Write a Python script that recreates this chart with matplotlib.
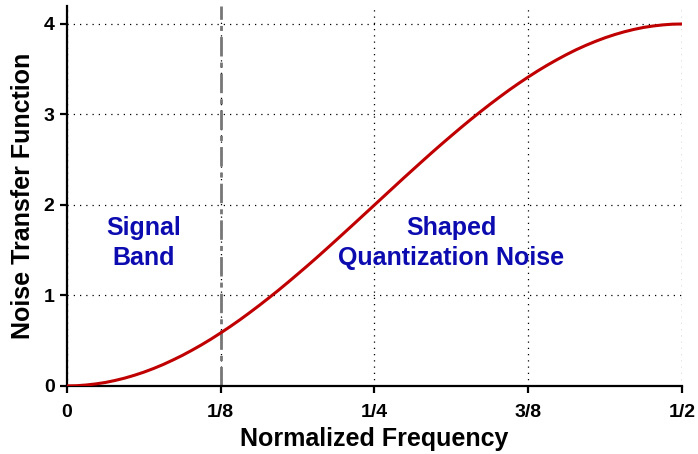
import matplotlib
matplotlib.use('Agg')
import matplotlib.pyplot as plt

plt.rcParams['font.family'] = ['Liberation Sans', 'DejaVu Sans']
plt.rcParams['font.weight'] = 'bold'

freq = [k / 128 for k in range(65)]
ntf = [0.000, 0.002, 0.010, 0.022, 0.038, 0.060, 0.086, 0.117, 0.152, 0.192,
       0.236, 0.285, 0.337, 0.394, 0.454, 0.518, 0.586, 0.657, 0.731, 0.809,
       0.889, 0.972, 1.057, 1.145, 1.235, 1.326, 1.419, 1.514, 1.610, 1.707,
       1.804, 1.902, 2.000, 2.098, 2.196, 2.294, 2.390, 2.486, 2.581, 2.674,
       2.765, 2.855, 2.943, 3.028, 3.111, 3.191, 3.269, 3.343, 3.414, 3.482,
       3.546, 3.606, 3.663, 3.716, 3.764, 3.808, 3.848, 3.883, 3.914, 3.940,
       3.962, 3.978, 3.990, 3.998, 4.000]
band_edge = 1 / 8
xticks = [0, 1 / 8, 1 / 4, 3 / 8, 1 / 2]
xticklabels = ['0', '1/8', '1/4', '3/8', '1/2']
yticks = [0, 1, 2, 3, 4]

fig = plt.figure(figsize=(6.98, 4.54), dpi=100)
ax = fig.add_axes([0.096, 0.150, 0.881, 0.837])

ax.plot(freq, ntf, color='#c00000', lw=2.2, zorder=3, solid_joinstyle='round')
ax.axvline(band_edge, color='#777777', lw=2.0, ls=(0, (7, 2.2, 1.8, 2.2)), zorder=2)

ax.set_xlim(0, 0.5)
ax.set_ylim(0, 4.2)
ax.set_xticks(xticks)
ax.set_xticklabels(xticklabels)
ax.set_yticks(yticks)
ax.grid(True, color='black', ls=(0, (1, 4)), lw=0.9)
for s in ['top', 'right']:
    ax.spines[s].set_visible(False)
for s in ['left', 'bottom']:
    ax.spines[s].set_linewidth(1.6)
ax.tick_params(direction='out', length=5, width=1.6, labelsize=14)
ax.tick_params(axis='x', pad=8)
ax.tick_params(axis='y', pad=4)
for lbl in ax.get_xticklabels() + ax.get_yticklabels():
    lbl.set_fontweight('bold')

ax.set_xlabel('Normalized Frequency', fontsize=18, fontweight='bold', labelpad=4)
ax.set_ylabel('Noise Transfer Function', fontsize=18, fontweight='bold', labelpad=6)

ax.text(0.0626, 1.58, 'Signal\nBand', color='#0b0bb0', fontsize=18, fontweight='bold',
        ha='center', va='center', linespacing=1.35)
ax.text(0.3126, 1.58, 'Shaped\nQuantization Noise', color='#0b0bb0', fontsize=18,
        fontweight='bold', ha='center', va='center', linespacing=1.35)

fig.savefig('out.png', dpi=100)
